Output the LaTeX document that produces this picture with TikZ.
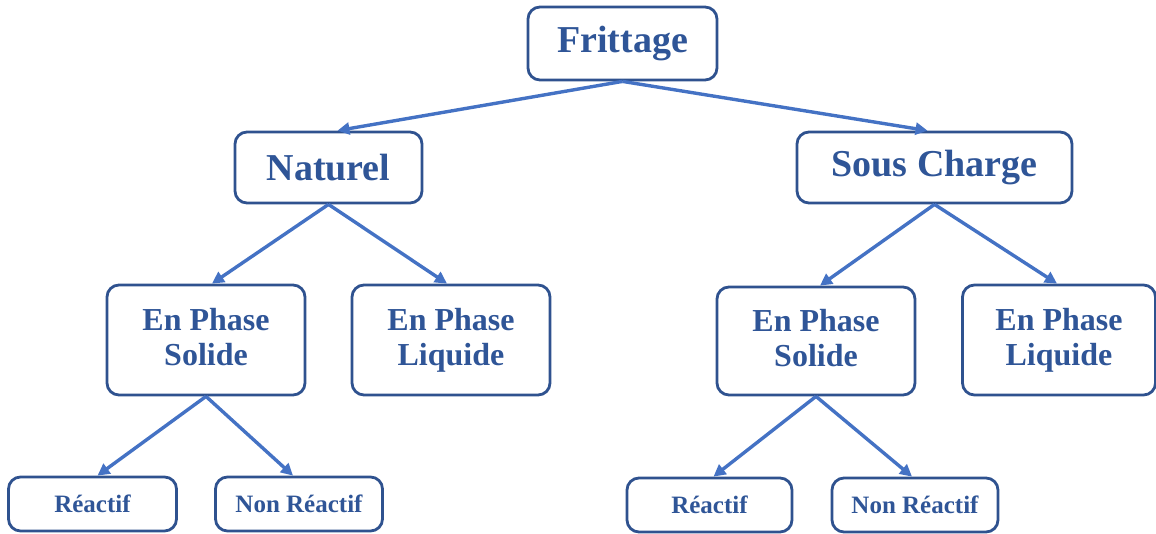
\documentclass[tikz,border=0pt]{standalone}
\usepackage{fontspec}
\setmainfont{Liberation Serif}
\usetikzlibrary{arrows.meta}
\definecolor{boxline}{RGB}{47,82,143}
\definecolor{arrowc}{RGB}{68,114,196}
\definecolor{txt}{RGB}{47,85,151}
\tikzset{
  box/.style={draw=boxline, line width=2.8pt, rounded corners=12pt, text=txt, align=center, inner sep=0pt},
  big/.style={box, font=\fontsize{38}{40}\selectfont\bfseries},
  mid/.style={box, font=\fontsize{32}{35}\selectfont\bfseries},
  small/.style={box, font=\fontsize{25}{28}\selectfont\bfseries},
  conn/.style={draw=arrowc, line width=3.4pt, -{Triangle[length=12pt,width=12pt]}},
}
\begin{document}
\begin{tikzpicture}[x=1pt,y=-1pt]
\useasboundingbox (0,0) rectangle (1156,533);
\node[big, minimum width=189pt, minimum height=73pt] (frit) at (622.5,43.5) {Frittage};
\node[big, minimum width=187pt, minimum height=71pt] (nat) at (328.5,167.5) {Naturel};
\node[big, minimum width=275pt, minimum height=71pt] (sous) at (934.5,167.5) {Sous Charge};
\node[mid, minimum width=198pt, minimum height=110pt] (solL) at (206,340) {En Phase\\Solide\vphantom{q}};
\node[mid, minimum width=198pt, minimum height=110pt] (liqL) at (451,340) {En Phase\\Liquide};
\node[mid, minimum width=198pt, minimum height=108pt] (solR) at (816,341) {En Phase\\Solide\vphantom{q}};
\node[mid, minimum width=193pt, minimum height=110pt] (liqR) at (1059,340) {En Phase\\Liquide};
\node[small, minimum width=168pt, minimum height=54pt] (reaL) at (92.5,504) {Réactif};
\node[small, minimum width=167pt, minimum height=54pt] (nonL) at (299,504) {Non Réactif};
\node[small, minimum width=165pt, minimum height=54pt] (reaR) at (709.5,505) {Réactif};
\node[small, minimum width=166pt, minimum height=54pt] (nonR) at (915,505) {Non Réactif};
\draw[conn] (frit.south) -- ([xshift=9pt]nat.north);
\draw[conn] (frit.south) -- ([xshift=-7pt]sous.north);
\draw[conn] (nat.south) -- ([xshift=6pt]solL.north);
\draw[conn] (nat.south) -- ([xshift=-4pt]liqL.north);
\draw[conn] (sous.south) -- ([xshift=4pt]solR.north);
\draw[conn] (sous.south) -- ([xshift=-2pt]liqR.north);
\draw[conn] (solL.south) -- ([xshift=5pt]reaL.north);
\draw[conn] (solL.south) -- ([xshift=-6pt]nonL.north);
\draw[conn] (solR.south) -- ([xshift=4pt]reaR.north);
\draw[conn] (solR.south) -- ([xshift=-3pt]nonR.north);
\end{tikzpicture}
\end{document}
